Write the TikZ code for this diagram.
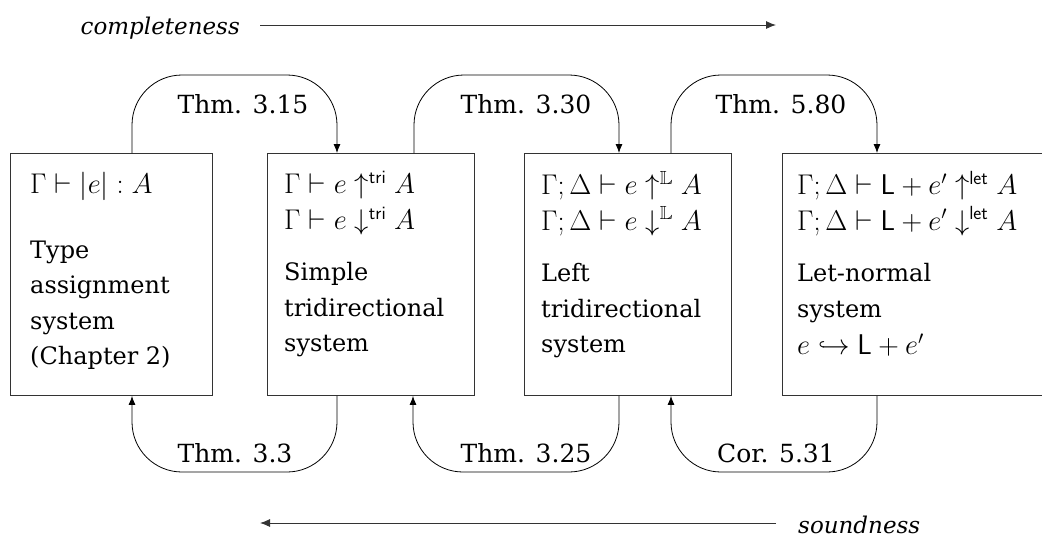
\RequirePackage{fix-cm}
\documentclass[tikz,border=0pt]{standalone}
\usepackage{amssymb}
\usepackage{fontspec}
\setmainfont{DejaVu Serif}
\DeclareMathSizes{24}{28.5}{19}{15}
\usetikzlibrary{arrows.meta}
\begin{document}
\begin{tikzpicture}[x=1pt,y=-1pt,
  box/.style={draw=black!80, line width=0.9pt, rectangle, inner sep=0pt, anchor=north west},
  txt/.style={inner sep=0pt, anchor=north west, align=left, font=\fontsize{24}{35.5}\selectfont},
  lbl/.style={inner sep=0pt, anchor=base, font=\fontsize{25}{30}\selectfont},
  side/.style={inner sep=0pt, font=\fontsize{23}{28}\selectfont\itshape},
  conn/.style={draw=black, line width=0.8pt, rounded corners=50pt, -{Latex[length=9pt,width=7pt]}},
  longarr/.style={draw=black!80, line width=0.9pt, -{Latex[length=10pt,width=8pt]}}
]
\useasboundingbox (0,0) rectangle (1042,539);
% boxes
\node[box, minimum width=202pt, minimum height=242pt] (b1) at (10,153) {};
\node[box, minimum width=207pt, minimum height=242pt] (b2) at (267,153) {};
\node[box, minimum width=207pt, minimum height=242pt] (b3) at (524,153) {};
\node[box, minimum width=270pt, minimum height=242pt] (b4) at (782,153) {};
% texts
\node[txt] (t1) at (30,172) {$\Gamma \vdash |e| : A$\\[29pt]Type\\assignment\\system\\(Chapter 2)};
\node[txt] (t2) at (284,171) {$\Gamma \vdash e \uparrow^{\mathsf{tri}} A$\\$\Gamma \vdash e \downarrow^{\mathsf{tri}} A$\\[16pt]Simple\\tridirectional\\system};
\node[txt] (t3) at (541,171) {$\Gamma;\Delta \vdash e \uparrow^{\mathbb{L}} A$\\$\Gamma;\Delta \vdash e \downarrow^{\mathbb{L}} A$\\[16pt]Left\\tridirectional\\system};
\node[txt] (t4) at (797,171) {$\Gamma;\Delta \vdash \mathsf{L} + e' \uparrow^{\mathsf{let}} A$\\$\Gamma;\Delta \vdash \mathsf{L} + e' \downarrow^{\mathsf{let}} A$\\[16pt]Let-normal\\system\\[2pt]$e \hookrightarrow \mathsf{L} + e'$};
% connector end points
\coordinate (u1) at (b1.north -| 132,0);
\coordinate (u2a) at (b2.north -| 337,0);
\coordinate (u2b) at (b2.north -| 414,0);
\coordinate (u3a) at (b3.north -| 619,0);
\coordinate (u3b) at (b3.north -| 671,0);
\coordinate (u4) at (b4.north -| 877,0);
\coordinate (d1) at (b1.south -| 132,0);
\coordinate (d2a) at (b2.south -| 337,0);
\coordinate (d2b) at (b2.south -| 413,0);
\coordinate (d3a) at (b3.south -| 619,0);
\coordinate (d3b) at (b3.south -| 671,0);
\coordinate (d4) at (b4.south -| 877,0);
% top connectors
\draw[conn] (u1) -- (u1 |- 0,75) -- (u2a |- 0,75) -- (u2a);
\draw[conn] (u2b) -- (u2b |- 0,75) -- (u3a |- 0,75) -- (u3a);
\draw[conn] (u3b) -- (u3b |- 0,75) -- (u4 |- 0,75) -- (u4);
% bottom connectors
\draw[conn] (d2a) -- (d2a |- 0,472) -- (d1 |- 0,472) -- (d1);
\draw[conn] (d3a) -- (d3a |- 0,472) -- (d2b |- 0,472) -- (d2b);
\draw[conn] (d4) -- (d4 |- 0,472) -- (d3b |- 0,472) -- (d3b);
% labels
\node[lbl] (l1) at (243,113) {Thm. 3.15};
\node[lbl] (l2) at (526,113) {Thm. 3.30};
\node[lbl] (l3) at (781,113) {Thm. 5.80};
\node[lbl] (l4) at (235,462) {Thm. 3.3};
\node[lbl] (l5) at (526,462) {Thm. 3.25};
\node[lbl] (l6) at (776,462) {Cor. 5.31};
% completeness / soundness
\node[side, anchor=base east] (cp) at (240,34) {completeness};
\coordinate (cpa) at (260,25);
\coordinate (cpb) at (776,25);
\draw[longarr] (cpa) -- (cpb);
\node[side, anchor=base west] (sd) at (798,533) {soundness};
\coordinate (sda) at (776,523);
\coordinate (sdb) at (260,523);
\draw[longarr] (sda) -- (sdb);
\end{tikzpicture}
\end{document}
